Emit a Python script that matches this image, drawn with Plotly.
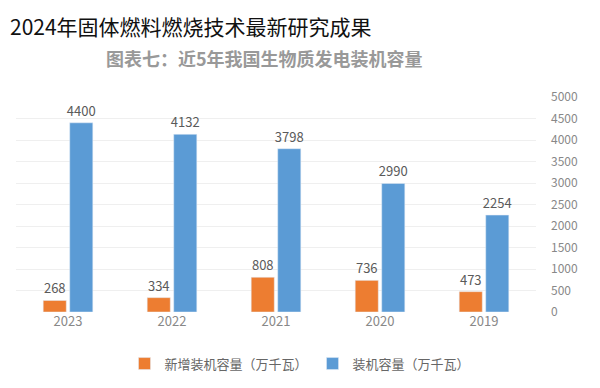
import plotly.graph_objects as go

years = ["2023", "2022", "2021", "2020", "2019"]
new_capacity = [268, 334, 808, 736, 473]
total_capacity = [4400, 4132, 3798, 2990, 2254]
y_ticks = [0, 500, 1000, 1500, 2000, 2500, 3000, 3500, 4000, 4500, 5000]

font_family = "Noto Sans CJK SC, Noto Sans, sans-serif"
label_color = "#5a5a5a"

fig = go.Figure()
fig.add_trace(go.Bar(
    x=years, y=new_capacity, name="新增装机容量（万千瓦）",
    marker_color="#ED7D31", text=new_capacity, textposition="outside",
    textfont=dict(size=13, color=label_color), cliponaxis=False, constraintext="none",
))
fig.add_trace(go.Bar(
    x=years, y=total_capacity, name="装机容量（万千瓦）",
    marker_color="#5B9BD5", text=total_capacity, textposition="outside",
    textfont=dict(size=13, color=label_color), cliponaxis=False, constraintext="none",
))

L = 8
W = 520
fig.update_layout(
    width=600, height=388,
    margin=dict(l=L, r=600 - L - W, t=89, b=84, autoexpand=False),
    paper_bgcolor="white", plot_bgcolor="white",
    barmode="group", bargap=0.49, bargroupgap=0.13,
    font=dict(family=font_family, color=label_color, size=12),
    showlegend=True,
    legend=dict(orientation="h", x=(292 - L) / W, xanchor="center", y=-0.24, yanchor="middle",
                font=dict(size=13, color="#666"), traceorder="normal"),
    xaxis=dict(type="category", showline=False, ticks="", tickfont=dict(size=13, color="#888")),
    yaxis=dict(side="right", range=[0, 5000], tickvals=y_ticks, showgrid=True,
               gridcolor="#efefef", zeroline=False, tickfont=dict(size=12, color="#888"),
               showline=False, ticklabelstandoff=14, automargin=False),
)

fig.add_annotation(text="2024年固体燃料燃烧技术最新研究成果", xref="paper", yref="paper",
                   x=-L / W, y=(304 - 18) / 215, xanchor="left", yanchor="middle",
                   showarrow=False, font=dict(size=21, color="#111", family=font_family))
fig.add_annotation(text="<b>图表七：近5年我国生物质发电装机容量</b>", xref="paper", yref="paper",
                   x=(256 - L) / W, y=(304 - 50) / 215, xanchor="center", yanchor="middle",
                   showarrow=False, font=dict(size=18, color="#999", family=font_family))

fig.write_html("out.html")
